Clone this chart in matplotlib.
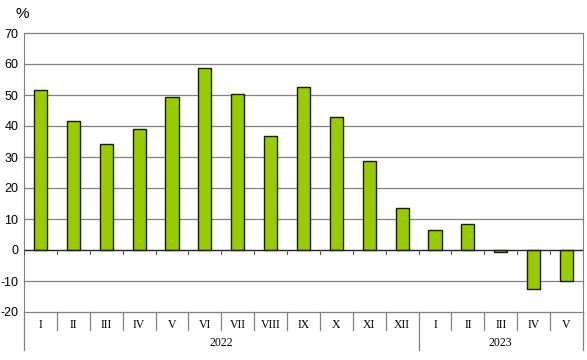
import numpy as np
import matplotlib.pyplot as plt
from matplotlib.transforms import blended_transform_factory

months = ["I", "II", "III", "IV", "V", "VI", "VII", "VIII", "IX", "X", "XI", "XII",
          "I", "II", "III", "IV", "V"]
values = [51.6, 41.7, 34.2, 39.0, 49.4, 58.6, 50.3, 36.7, 52.6, 42.8, 28.6, 13.5,
          6.4, 8.3, -0.8, -12.5, -10.0]
years = ["2022", "2023"]
year_counts = [12, 5]

fig = plt.figure(figsize=(5.87, 3.6), dpi=100)
ax = fig.add_axes([24 / 587, 1 - 312 / 360, 559 / 587, 279 / 360])

x = np.arange(len(values))
ax.bar(x, values, width=0.4, color="#99cc00", edgecolor="#1a1a00", linewidth=1.0, zorder=3)

ax.set_xlim(-0.5, len(values) - 0.5)
ax.set_ylim(-20, 70)
ax.set_yticks(range(-20, 71, 10))
ax.set_yticklabels([str(v) for v in range(-20, 71, 10)], family="Liberation Sans", fontsize=9)
ax.tick_params(axis="y", length=0, pad=4)
ax.set_xticks([])
for v in range(-20, 71, 10):
    if v != 0:
        ax.axhline(v, color="#808080", linewidth=0.9, zorder=0, clip_on=False)

for s in ["top", "bottom"]:
    ax.spines[s].set_visible(False)
ax.spines["left"].set_color("#808080")
ax.spines["right"].set_color("#808080")
ax.spines["left"].set_bounds(-20, 70)
ax.spines["right"].set_bounds(-20, 70)

# zero line with small ticks
ax.axhline(0, color="#222222", linewidth=1.0, zorder=4)
for b in np.arange(-0.5, len(values), 1.0):
    ax.plot([b, b], [0, -1.2], color="#555555", linewidth=0.8, zorder=4)

trans = blended_transform_factory(ax.transData, ax.transAxes)
# category labels and separators below the plot
for i, m in enumerate(months):
    ax.text(i, -0.045, m, transform=trans, ha="center", va="center",
            family="Liberation Serif", fontsize=8.5)
bounds_year = np.cumsum([0] + year_counts) - 0.5
for b in np.arange(-0.5, len(values), 1.0):
    long = np.any(np.isclose(b, bounds_year))
    ax.plot([b, b], [0, -0.135 if long else -0.065], transform=trans,
            color="#808080", linewidth=0.9, clip_on=False)
start = 0
for y, c in zip(years, year_counts):
    ax.text(start + (c - 1) / 2, -0.112, y, transform=trans, ha="center", va="center",
            family="Liberation Serif", fontsize=8.5)
    start += c

fig.text(15 / 587, 1 - 14 / 360, "%", family="Liberation Sans", fontsize=11, va="center")

fig.savefig("out.png", dpi=100)
